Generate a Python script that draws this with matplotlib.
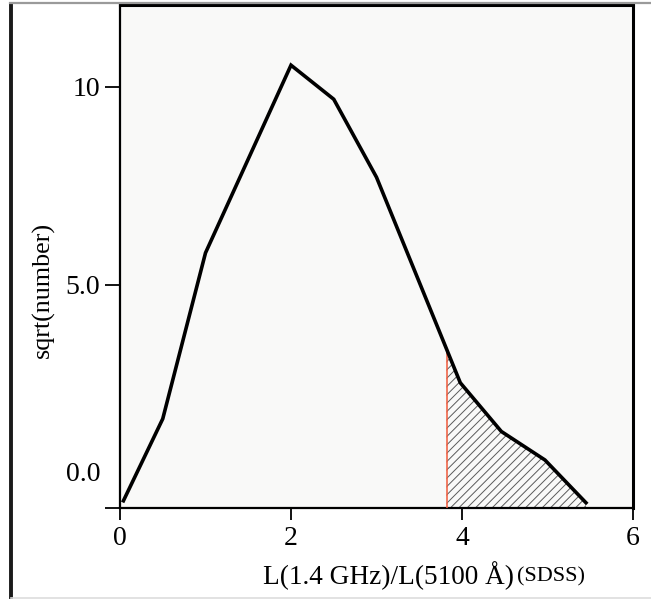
import numpy as np
import matplotlib
matplotlib.use("Agg")
import matplotlib.pyplot as plt
from matplotlib.lines import Line2D
from matplotlib.transforms import ScaledTranslation

# ---- data ----
x_vals = [0.04, 0.5, 1.0, 2.0, 2.5, 3.0, 3.98, 4.46, 4.97, 5.45]
y_vals = [-0.45, 1.62, 5.81, 10.55, 9.69, 7.72, 2.53, 1.30, 0.58, -0.50]
cut_x = 3.82
x_ticks = [0, 2, 4, 6]
x_ticklabels = ["0", "2", "4", "6"]
y_ticks = [0, 5, 10]
y_ticklabels = ["0.0", "5.0", "10"]
x_range = (0, 6)
y_range = (-0.62, 12.07)

plt.rcParams['font.family'] = ['Liberation Serif', 'DejaVu Serif']

W, H = 651, 599
fig = plt.figure(figsize=(W / 100, H / 100), dpi=100)
fig.patch.set_facecolor('white')
ax = fig.add_axes([120 / W, 1 - 507.5 / H, (633 - 120) / W, (507.5 - 5) / H])
ax.set_facecolor('#f9f9f8')

x = np.array(x_vals)
y = np.array(y_vals)

ax.set_xlim(*x_range)
ax.set_ylim(*y_range)

# hatched tail region
y_cut = np.interp(cut_x, x, y)
mask = x > cut_x
xs = np.concatenate([[cut_x], x[mask]])
ys = np.concatenate([[y_cut], y[mask]])
plt.rcParams['hatch.linewidth'] = 0.7
ax.fill_between(xs, ys, y_range[0], facecolor='none', edgecolor='#5a5a5a',
                hatch='////', linewidth=0, zorder=2)
# red cut line
ax.plot([cut_x, cut_x], [y_range[0], y_cut], color='#f05a3c', lw=1.1, zorder=3)
# main curve
ax.plot(x, y, color='black', lw=2.6, solid_joinstyle='miter', zorder=4)

# spines
for s in ['left', 'bottom']:
    ax.spines[s].set_linewidth(1.6)
for s in ['top', 'right']:
    ax.spines[s].set_linewidth(2.2)

ax.set_xticks(x_ticks)
ax.set_xticklabels(x_ticklabels, fontsize=20)
ax.set_yticks(y_ticks)
ax.set_yticklabels(y_ticklabels, fontsize=20)
ax.tick_params(axis='x', direction='out', length=8.6, width=1.3, pad=5)
ax.tick_params(axis='y', direction='out', length=10.8, width=1.3, pad=3.5)
ax.set_yticks([y_range[0]], minor=True)
ax.tick_params(axis='y', which='minor', direction='out', length=10.8, width=1.3)
# the 0.0 label has no tick mark and sits slightly higher
t0 = ax.yaxis.get_major_ticks()[0]
t0.tick1line.set_visible(False)
t0.label1.set_transform(t0.label1.get_transform() + ScaledTranslation(0, 0.11, fig.dpi_scale_trans))

# axis labels
fig.text(43 / W, 1 - 290 / H, "sqrt(number)", rotation=90, ha='center', va='center', fontsize=18.7)
fig.text(263 / W, 1 - 576 / H, "L(1.4 GHz)/L(5100 Å)", ha='left', va='center', fontsize=19.6)
fig.text(585 / W, 1 - 577 / H, "(SDSS)", ha='right', va='center', fontsize=16)

# screenshot frame decorations
fig.add_artist(Line2D([11 / W, 11 / W], [0.003, 1 - 5 / H], transform=fig.transFigure,
                      color='#1a1a1a', lw=2.8))
fig.add_artist(Line2D([10 / W, 1.0], [1 - 3 / H, 1 - 3 / H], transform=fig.transFigure,
                      color='#9a9a9a', lw=1.6))
fig.add_artist(Line2D([11 / W, 1.0], [1.5 / H, 1.5 / H], transform=fig.transFigure,
                      color='#dddddd', lw=1.2))

fig.savefig('out.png', dpi=100, facecolor='white')
